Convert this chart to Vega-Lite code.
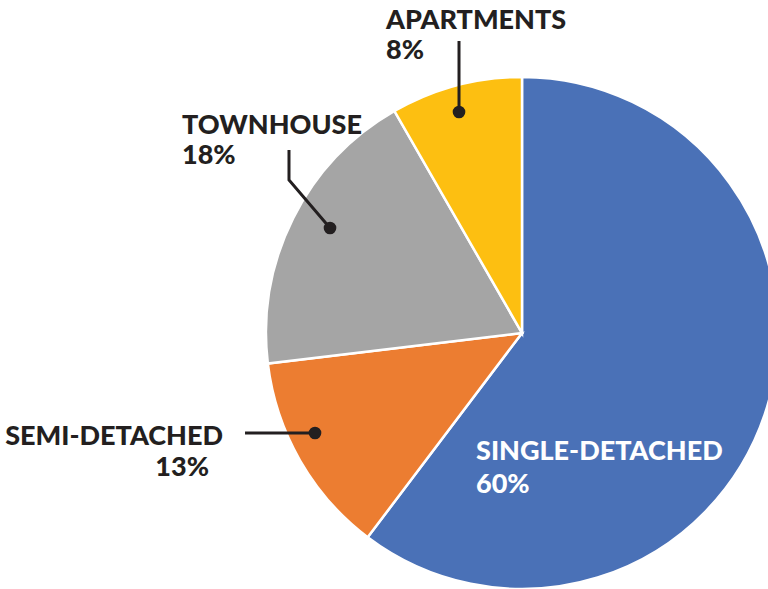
{
  "$schema": "https://vega.github.io/schema/vega-lite/v6.json",
  "width": 768,
  "height": 589,
  "autosize": {"type": "none"},
  "padding": 0,
  "background": "white",
  "config": {"view": {"stroke": null}},
  "datasets": {
    "slices": [
      {"category": "Single-detached", "value": 60.3, "rank": 1},
      {"category": "Semi-detached", "value": 12.8, "rank": 2},
      {"category": "Townhouse", "value": 18.6, "rank": 3},
      {"category": "Apartments", "value": 8.3, "rank": 4}
    ],
    "labels": [
      {"category": "Apartments", "text": "APARTMENTS", "x": -0.531, "y": 1.1875},
      {"category": "Apartments", "text": "8%", "x": -0.531, "y": 1.0703},
      {"category": "Townhouse", "text": "TOWNHOUSE", "x": -1.328, "y": 0.7773},
      {"category": "Townhouse", "text": "18%", "x": -1.328, "y": 0.6602},
      {"category": "Semi-detached", "text": "SEMI-DETACHED", "x": -1.168, "y": -0.4375},
      {"category": "Semi-detached", "text": "13%", "x": -1.2227, "y": -0.5586},
      {"category": "Single-detached", "text": "SINGLE-DETACHED", "x": -0.1797, "y": -0.4961},
      {"category": "Single-detached", "text": "60%", "x": -0.1797, "y": -0.625}
    ],
    "leaders": [
      {"category": "Apartments", "step": 1, "x": -0.2461, "y": 1.1406},
      {"category": "Apartments", "step": 2, "x": -0.2461, "y": 0.8633},
      {"category": "Townhouse", "step": 1, "x": -0.9102, "y": 0.7148},
      {"category": "Townhouse", "step": 2, "x": -0.9102, "y": 0.5977},
      {"category": "Townhouse", "step": 3, "x": -0.75, "y": 0.4102},
      {"category": "Semi-detached", "step": 1, "x": -1.082, "y": -0.3906},
      {"category": "Semi-detached", "step": 2, "x": -0.8086, "y": -0.3906}
    ]
  },
  "layer": [
    {
      "data": {"name": "slices"},
      "mark": {"type": "arc", "outerRadius": 256, "stroke": "white", "strokeWidth": 2.5},
      "encoding": {
        "theta": {"field": "value", "type": "quantitative", "stack": true},
        "order": {"field": "rank", "type": "quantitative"},
        "color": {
          "field": "category",
          "type": "nominal",
          "scale": {
            "domain": ["Single-detached", "Semi-detached", "Townhouse", "Apartments"],
            "range": ["#4A71B7", "#EC7D31", "#A5A5A5", "#FDBF11"]
          },
          "legend": null
        },
        "x": {"datum": 0, "type": "quantitative", "scale": {"domain": [-2.0391, 0.9609], "nice": false, "zero": false}, "axis": null},
        "y": {"datum": 0, "type": "quantitative", "scale": {"domain": [-1, 1.3008], "nice": false, "zero": false}, "axis": null}
      }
    },
    {
      "data": {"name": "leaders"},
      "mark": {"type": "line", "color": "#231F20", "strokeWidth": 3},
      "encoding": {
        "x": {"field": "x", "type": "quantitative", "axis": null},
        "y": {"field": "y", "type": "quantitative", "axis": null},
        "detail": {"field": "category"},
        "order": {"field": "step", "type": "quantitative"}
      }
    },
    {
      "data": {"name": "leaders"},
      "transform": [
        {"joinaggregate": [{"op": "max", "field": "step", "as": "last"}], "groupby": ["category"]},
        {"filter": "datum.step === datum.last"}
      ],
      "mark": {"type": "point", "filled": true, "color": "#231F20", "size": 160, "opacity": 1},
      "encoding": {
        "x": {"field": "x", "type": "quantitative", "axis": null},
        "y": {"field": "y", "type": "quantitative", "axis": null}
      }
    },
    {
      "data": {"name": "labels"},
      "transform": [{"filter": "datum.category !== 'Semi-detached'"}],
      "mark": {"type": "text", "align": "left", "baseline": "alphabetic", "font": "Lato", "fontWeight": 900, "fontSize": 27},
      "encoding": {
        "x": {"field": "x", "type": "quantitative", "axis": null},
        "y": {"field": "y", "type": "quantitative", "axis": null},
        "text": {"field": "text"},
        "color": {"condition": {"test": "datum.category === 'Single-detached'", "value": "white"}, "value": "#231F20"}
      }
    },
    {
      "data": {"name": "labels"},
      "transform": [{"filter": "datum.category === 'Semi-detached'"}],
      "mark": {"type": "text", "align": "right", "baseline": "alphabetic", "font": "Lato", "fontWeight": 900, "fontSize": 27, "color": "#231F20"},
      "encoding": {
        "x": {"field": "x", "type": "quantitative", "axis": null},
        "y": {"field": "y", "type": "quantitative", "axis": null},
        "text": {"field": "text"}
      }
    }
  ]
}
